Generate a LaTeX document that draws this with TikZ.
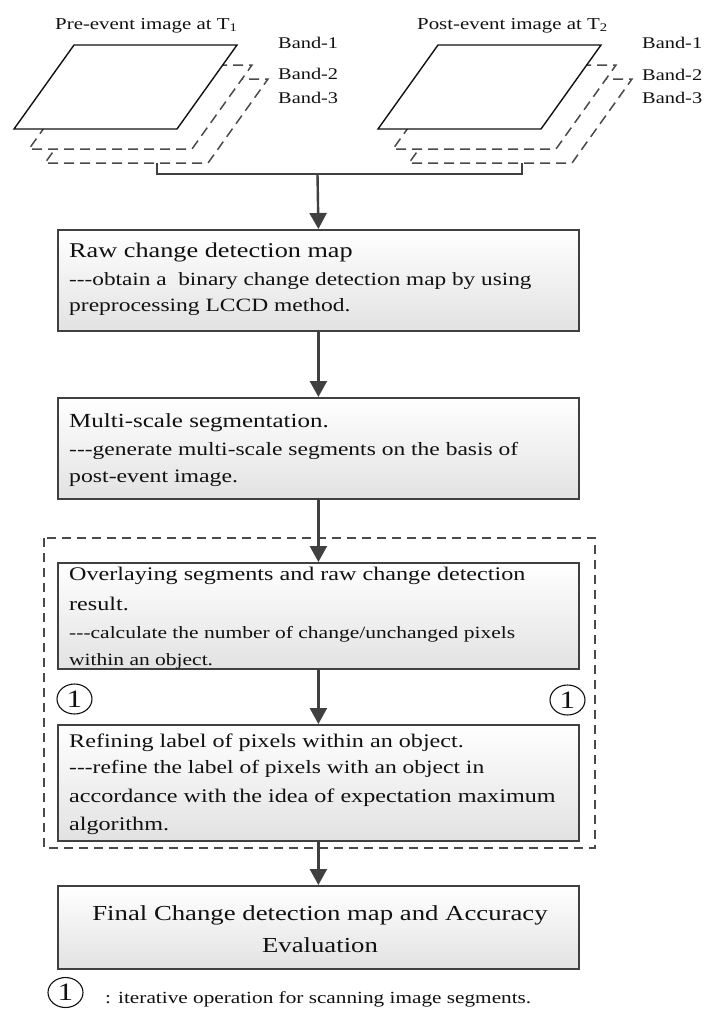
\documentclass[tikz,border=0pt]{standalone}
\usepackage{fontspec}
\setmainfont[FakeStretch=1.25]{Liberation Serif}
\usetikzlibrary{arrows.meta,shapes.geometric}
\definecolor{boxdraw}{HTML}{404040}
\definecolor{boxbot}{HTML}{E2E2E2}
\definecolor{arrowc}{HTML}{404040}
\definecolor{dashc}{HTML}{4A4A4A}
\definecolor{inkc}{HTML}{111111}
\newcommand{\fs}[1]{\fontsize{#1pt}{#1pt}\selectfont}
\newcommand{\tridash}{-{}-{}-}
\tikzset{
  flowbox/.style={draw=boxdraw, line width=1.8pt, top color=white, bottom color=boxbot,
    minimum width=521pt, inner sep=0pt, anchor=north west},
  txt/.style={anchor=base west, inner sep=0pt, text=inkc},
  ctxt/.style={anchor=base, inner sep=0pt, text=inkc},
  arr/.style={draw=arrowc, line width=2.4pt, -{Triangle[width=17pt,length=16pt]}},
  solidband/.style={draw=inkc, line width=1.4pt, fill=white, line join=miter},
  dashband/.style={draw=dashc, line width=1.5pt, fill=white, dash pattern=on 10pt off 6pt},
  joinline/.style={draw=arrowc, line width=2.2pt},
  groupbox/.style={draw=dashc, line width=1.6pt, dash pattern=on 9pt off 6pt},
  circnum/.style={ellipse, draw=inkc, line width=1.1pt, minimum width=35pt, minimum height=30pt,
    inner sep=0pt, font=\fs{25}, text=inkc}
}
\begin{document}
\begin{tikzpicture}[x=1pt,y=-1pt]
\useasboundingbox (0,0) rectangle (705,1010);
\fill[white] (0,0) rectangle (705,1010);

% ---------- pre-event image stack ----------
\path[dashband] (105,79) -- (268,79) -- (208,163) -- (45,163) -- cycle;
\path[dashband] (89,65) -- (252,65) -- (192,149) -- (29,149) -- cycle;
\path[solidband] (74,45) -- (237,45) -- (177,129) -- (14,129) -- cycle;
\node[txt, font=\fs{16.7}] (pretitle) at (55,29) {Pre-event image at T\textsubscript{1}};
\node[txt, font=\fs{16.3}] (preb1) at (278,48) {Band-1};
\node[txt, font=\fs{16.3}] (preb2) at (278,79) {Band-2};
\node[txt, font=\fs{16.3}] (preb3) at (278,103) {Band-3};

% ---------- post-event image stack ----------
\path[dashband] (469,79) -- (632,79) -- (572,163) -- (409,163) -- cycle;
\path[dashband] (453,65) -- (616,65) -- (556,149) -- (393,149) -- cycle;
\path[solidband] (438,45) -- (601,45) -- (541,129) -- (378,129) -- cycle;
\node[txt, font=\fs{16.7}] (posttitle) at (417,29) {Post-event image at T\textsubscript{2}};
\node[txt, font=\fs{16.3}] (postb1) at (642,48) {Band-1};
\node[txt, font=\fs{16.3}] (postb2) at (642,80) {Band-2};
\node[txt, font=\fs{16.3}] (postb3) at (642,103) {Band-3};

% ---------- join of the two images ----------
\coordinate (prebot) at (157,163);
\coordinate (postbot) at (522,163);
\coordinate (junc) at (317.5,174);
\draw[joinline] (prebot) |- (junc) -| (postbot);

% ---------- dashed group ----------
\draw[groupbox] (44,538) rectangle (595,848);

% ---------- boxes ----------
\node[flowbox, minimum height=101pt] (b1) at (57,229) {};
\node[txt, font=\fs{21}] (b1a) at (69,257) {Raw change detection map};
\node[txt, font=\fs{18.6}] (b1b) at (69,285) {\tridash obtain a\ \ binary change detection map by using};
\node[txt, font=\fs{18.8}] (b1c) at (69,311) {preprocessing LCCD method.};

\node[flowbox, minimum height=101pt] (b2) at (57,397) {};
\node[txt, font=\fs{20}] (b2a) at (69,427) {Multi-scale segmentation.};
\node[txt, font=\fs{18.8}] (b2b) at (69,455) {\tridash generate multi-scale segments on the basis of};
\node[txt, font=\fs{19}] (b2c) at (69,482) {post-event image.};

\node[flowbox, minimum height=106pt] (b3) at (57,562) {};
\node[txt, font=\fs{19.3}] (b3a) at (69,580) {Overlaying segments and raw change detection};
\node[txt, font=\fs{19.3}] (b3b) at (69,610) {result.};
\node[txt, font=\fs{17.2}] (b3c) at (69,638) {\tridash calculate the number of change/unchanged pixels};
\node[txt, font=\fs{17.2}] (b3d) at (69,665) {within an object.};

\node[flowbox, minimum height=116pt] (b4) at (57,724) {};
\node[txt, font=\fs{19.3}] (b4a) at (69,747) {Refining label of pixels within an object.};
\node[txt, font=\fs{18.8}] (b4b) at (69,773) {\tridash refine the label of pixels with an object in};
\node[txt, font=\fs{19.3}] (b4c) at (69,802) {accordance with the idea of expectation maximum};
\node[txt, font=\fs{19.3}] (b4d) at (69,830) {algorithm.};

\node[flowbox, minimum height=83pt] (b5) at (57,885) {};
\node[ctxt, font=\fs{21.4}] (b5a) at (320,920) {Final Change detection map and Accuracy};
\node[ctxt, font=\fs{21.4}] (b5b) at (320,952) {Evaluation};

% ---------- arrows ----------
\draw[arr] (junc) -- (b1.north);
\draw[arr] (b1.south) -- (b2.north);
\draw[arr] (b2.south) -- (b3.north);
\draw[arr] (b3.south) -- (b4.north);
\draw[arr] (b4.south) -- (b5.north);

% ---------- iteration marks ----------
\node[circnum] (cl) at (74.5,699) {1};
\node[circnum] (cr) at (567.5,700) {1};
\node[circnum] (cleg) at (65.5,992.5) {1};
\node[txt, font=\fs{17}] (legend) at (105,1003) {: iterative operation for scanning image segments.};
\end{tikzpicture}
\end{document}
